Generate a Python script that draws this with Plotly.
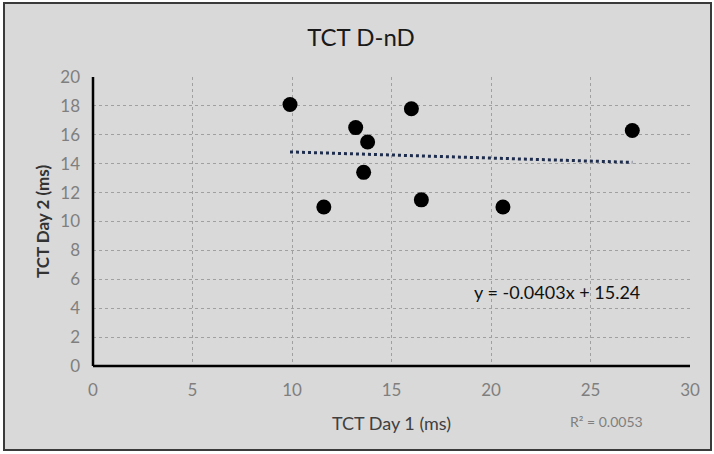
import numpy as np
import plotly.graph_objects as go

# Data
day1 = [9.9, 11.6, 13.2, 13.8, 13.6, 16.0, 16.5, 20.6, 27.1]
day2 = [18.1, 11.0, 16.5, 15.5, 13.4, 17.8, 11.5, 11.0, 16.3]
x_ticks = [0, 5, 10, 15, 20, 25, 30]
y_ticks = [0, 2, 4, 6, 8, 10, 12, 14, 16, 18, 20]
title_text = "TCT D-nD"
equation_text = "y = -0.0403x + 15.24"
r2_text = "R² = 0.0053"

slope, intercept = np.polyfit(day1, day2, 1)
fit_x = [min(day1), max(day1)]
fit_y = [slope * v + intercept for v in fit_x]

W, H = 714, 454
L, R, T, B = 93, 24, 77, 88
pw, ph = W - L - R, H - T - B

def px(xp):
    return (xp - L) / pw

def py(yp):
    return (H - B - yp) / ph

FONT = "Lato"
BG = "#d9d9d9"

fig = go.Figure()
fig.add_trace(go.Scatter(
    x=fit_x, y=fit_y, mode="lines",
    line=dict(color="#1f2d4d", width=3, dash="dot"),
    hoverinfo="skip", showlegend=False))
fig.add_trace(go.Scatter(
    x=day1, y=day2, mode="markers",
    marker=dict(color="black", size=15),
    showlegend=False))

grid = dict(showgrid=True, gridcolor="#a0a0a0", griddash="dot", gridwidth=1)
fig.update_xaxes(range=[0, 30], tickvals=x_ticks, ticks="", **grid,
                 showline=False, zeroline=False, ticklabelstandoff=12,
                 tickfont=dict(family=FONT, size=17, color="#7f7f7f"),
                 title=dict(text="TCT Day 1 (ms)", standoff=18,
                            font=dict(family=FONT, size=18, color="#404040")))
fig.update_yaxes(range=[0, 20], tickvals=y_ticks, ticks="", **grid,
                 showline=False, zeroline=False, ticklabelstandoff=12,
                 tickfont=dict(family=FONT, size=17, color="#7f7f7f"),
                 title=dict(text="<b>TCT Day 2 (ms)</b>", standoff=6,
                            font=dict(family=FONT, size=17, color="#333333")))

shapes = [
    dict(type="rect", xref="paper", yref="paper",
         x0=px(4), x1=px(711), y0=py(450), y1=py(3),
         fillcolor=BG, line=dict(color="#3a3a3a", width=2), layer="below"),
    dict(type="line", xref="paper", yref="paper", x0=0, x1=0, y0=0, y1=1,
         line=dict(color="black", width=2.5)),
    dict(type="line", xref="paper", yref="paper", x0=0, x1=1, y0=0, y1=0,
         line=dict(color="black", width=2.5)),
]

fig.update_layout(
    width=W, height=H,
    margin=dict(l=L, r=R, t=T, b=B),
    paper_bgcolor="white", plot_bgcolor=BG,
    title=dict(text=title_text, x=361 / W, xanchor="center",
               y=1 - 38 / H, yanchor="middle",
               font=dict(family=FONT, size=24, color="#1a1a1a")),
    shapes=shapes,
    annotations=[
        dict(text=equation_text, xref="x", yref="y", x=23.3, y=5.1,
             showarrow=False, xanchor="center", yanchor="middle",
             font=dict(family=FONT, size=18, color="#111111")),
        dict(text=r2_text, xref="paper", yref="paper", x=px(606), y=py(421),
             showarrow=False, xanchor="center", yanchor="middle",
             font=dict(family=FONT, size=14, color="#7f7f7f")),
    ],
)

fig.write_html("out.html", config={"displayModeBar": False},
               post_script="document.body.style.margin='0';")
